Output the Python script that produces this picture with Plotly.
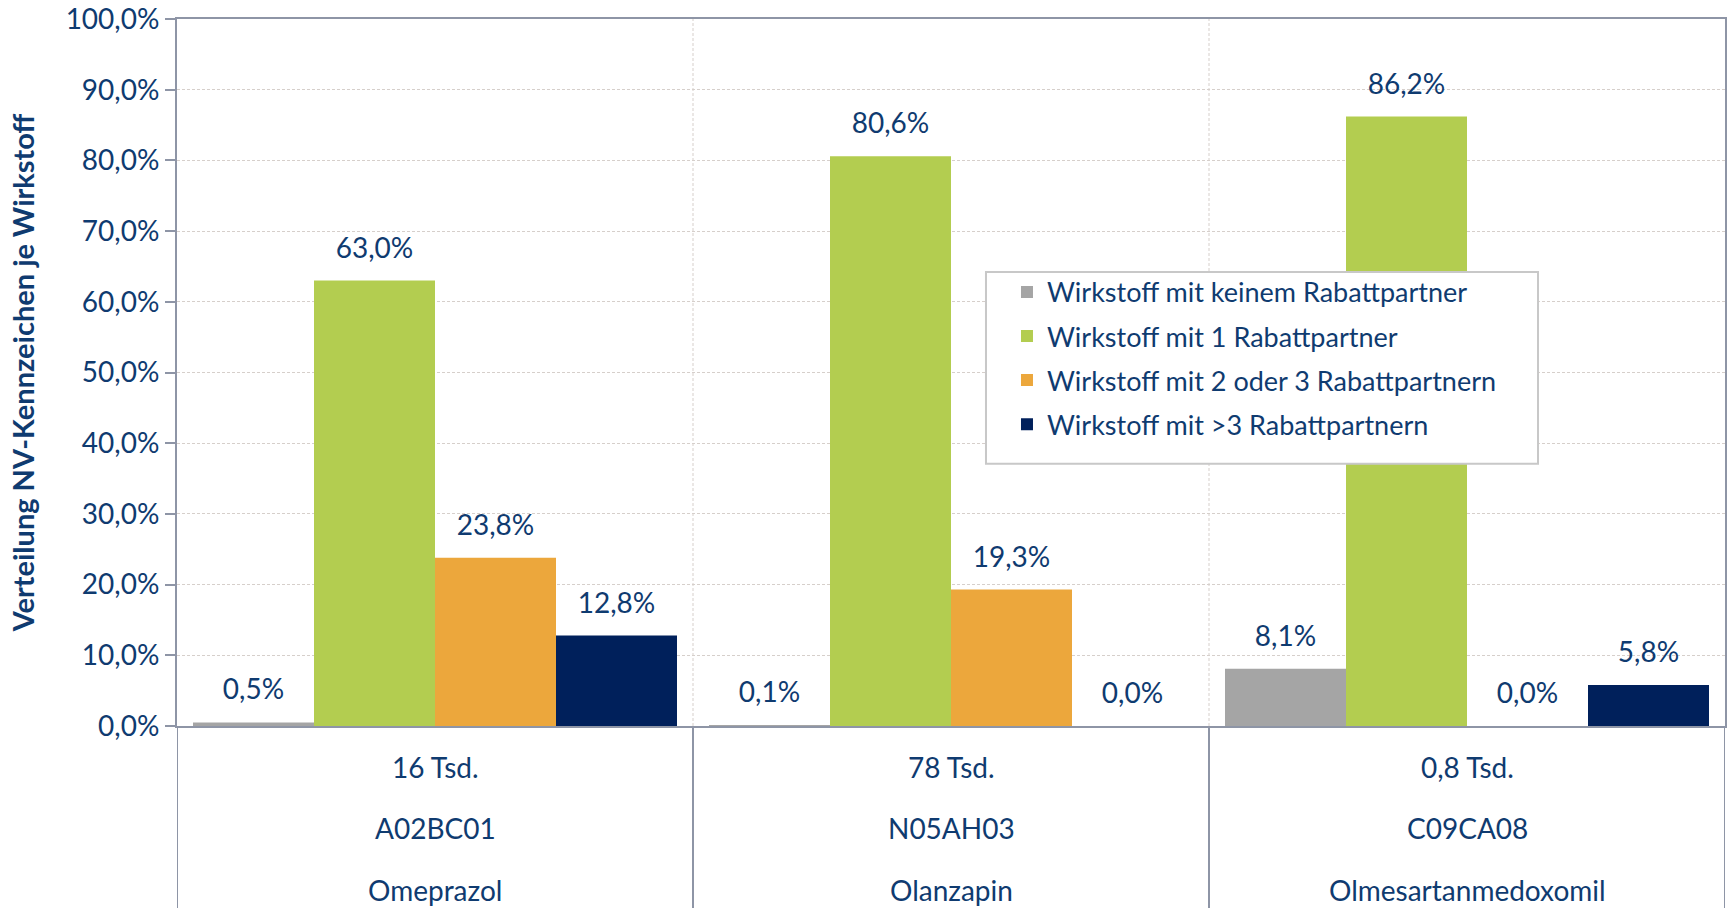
import plotly.graph_objects as go

categories = ["Omeprazol", "Olanzapin", "Olmesartanmedoxomil"]
atc_codes = ["A02BC01", "N05AH03", "C09CA08"]
volumes = ["16 Tsd.", "78 Tsd.", "0,8 Tsd."]

series_names = [
    "Wirkstoff mit keinem Rabattpartner",
    "Wirkstoff mit 1 Rabattpartner",
    "Wirkstoff mit 2 oder 3 Rabattpartnern",
    "Wirkstoff mit >3 Rabattpartnern",
]
keine = [0.5, 0.1, 8.1]
eins = [63.0, 80.6, 86.2]
zwei_drei = [23.8, 19.3, 0.0]
mehr_drei = [12.8, 0.0, 5.8]
series_values = [keine, eins, zwei_drei, mehr_drei]
colors = ["#a5a5a5", "#b3cd50", "#eca73c", "#00205b"]

y_ticks = [0, 10, 20, 30, 40, 50, 60, 70, 80, 90, 100]
y_tick_labels = [f"{v:.1f}%".replace(".", ",") for v in y_ticks]

TXT = "#0f3b70"
FONT = "Lato"
AX = "#8e95a6"
GRID = "#d6cfcb"

x = list(range(len(categories)))

fig = go.Figure()
for i, (name, vals, col) in enumerate(zip(series_names, series_values, colors)):
    fig.add_trace(go.Bar(
        x=x, y=vals, name=name, marker=dict(color=col, line=dict(width=0)),
        offsetgroup=str(i), legendgroup=str(i), showlegend=True,
    ))
for i, vals in enumerate(series_values):
    fig.add_trace(go.Scatter(
        x=x, y=vals, mode="markers+text", offsetgroup=str(i),
        marker=dict(size=24, color="rgba(0,0,0,0)"),
        text=[f"{v:.1f}%".replace(".", ",") for v in vals],
        textposition="top center",
        textfont=dict(family=FONT, size=28, color=TXT),
        showlegend=False, hoverinfo="skip", cliponaxis=False,
    ))

n = len(categories)
for b in range(n + 1):
    xb = b - 0.5
    if 0 < b < n:
        fig.add_shape(type="line", xref="x", yref="paper", x0=xb, x1=xb, y0=0, y1=1,
                      line=dict(color=GRID, width=1, dash="3px,2px"), layer="below")
    fig.add_shape(type="line", xref="x", yref="paper", x0=xb, x1=xb, y0=-0.26, y1=0,
                  line=dict(color=AX, width=2))

# legend frame
LEG_X0, LEG_X1, LEG_Y0, LEG_Y1 = 0.5226, 0.8792, 0.3708, 0.642
fig.add_shape(type="rect", xref="paper", yref="paper", x0=LEG_X0, x1=LEG_X1, y0=LEG_Y0, y1=LEG_Y1,
              fillcolor="white", line=dict(color="#c8c8c8", width=2), layer="above")

for i in range(n):
    for txt, yy in zip([volumes[i], atc_codes[i], categories[i]], [-0.058, -0.1444, -0.232]):
        fig.add_annotation(x=i, y=yy, xref="x", yref="paper", text=txt, showarrow=False,
                           yanchor="middle", font=dict(family=FONT, size=28, color=TXT))

fig.update_layout(
    width=1727, height=908,
    margin=dict(l=177, r=2, t=19, b=182, autoexpand=False),
    plot_bgcolor="white", paper_bgcolor="white",
    barmode="group", bargap=0.062, bargroupgap=0,
    scattermode="group", scattergap=0.062,
    font=dict(family=FONT, color=TXT),
    legend=dict(
        x=LEG_X0, y=LEG_Y1 + 0.006, xanchor="left", yanchor="top",
        bgcolor="rgba(0,0,0,0)", borderwidth=0,
        font=dict(family=FONT, size=27, color=TXT),
        tracegroupgap=6, itemwidth=30, indentation=21,
    ),
    xaxis=dict(
        range=[-0.5, n - 0.5], showticklabels=False, showgrid=False,
        showline=True, linecolor=AX, linewidth=2, mirror=True, ticks="",
        zeroline=False, automargin=False,
    ),
    yaxis=dict(
        range=[0, 100], tickvals=y_ticks, ticktext=y_tick_labels,
        showgrid=True, gridcolor=GRID, griddash="3px,2px", gridwidth=1,
        showline=True, linecolor=AX, linewidth=2, mirror=True,
        ticks="outside", ticklen=10, tickcolor=AX, tickwidth=2,
        tickfont=dict(family=FONT, size=28, color=TXT),
        zeroline=False, automargin=False,
        title=dict(text="<b>Verteilung NV-Kennzeichen je Wirkstoff</b>",
                   font=dict(family=FONT, size=29, color=TXT), standoff=22),
    ),
)

fig.write_html("out.html", config={"displayModeBar": False},
               post_script="document.body.style.margin='0';document.body.style.overflow='hidden';")
